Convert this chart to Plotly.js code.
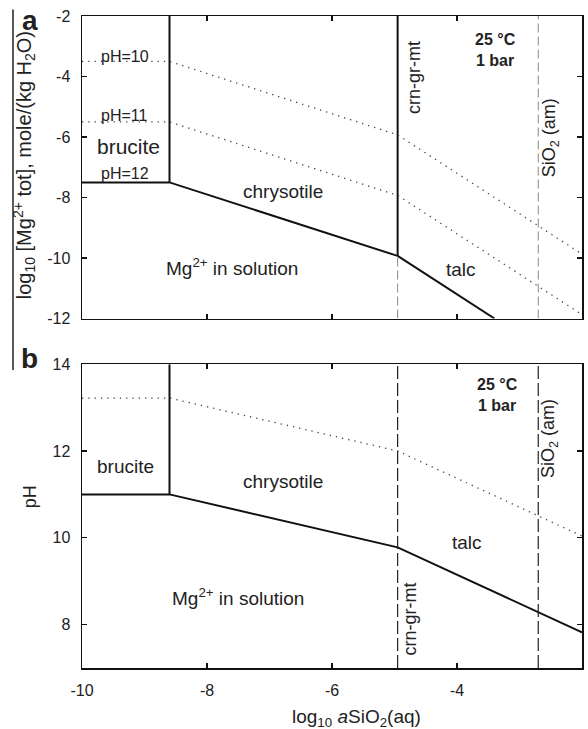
<!DOCTYPE html>
<html>
<head>
<meta charset="utf-8">
<script src="https://cdn.plot.ly/plotly-3.0.1.min.js"></script>
<style>html,body{margin:0;padding:0;background:#fff;}#chart{width:588px;height:729px;}</style>
</head>
<body>
<div id="chart"></div>
<script>
// ---- data (log10 aSiO2(aq) positions and values) ----
const xPhase = [-10, -8.6, -4.95, -2];          // break points: brucite/chrysotile, chrysotile/talc
const xBrucChrys = -8.6;
const xCrnGrMt = -4.95;
const xSiO2am = -2.7;

// panel a: log10 [Mg2+ tot]
const mgBoundary = [-7.5, -7.5, -9.93];          // brucite / chrysotile vs Mg2+ in solution
const mgTalcX = [-4.95, -3.4];
const mgTalcY = [-9.93, -12];
const mgPH10 = [-3.5, -3.5, -5.93, -9.87];
const mgPH11 = [-5.5, -5.5, -7.93, -11.87];
const mgRange = [-12, -2];

// panel b: pH
const phBoundary = [11, 11, 9.78, 7.82];
const phDotted = [13.22, 13.22, 12.0, 10.04];
const phRange = [7, 14];

const xTicks = [-10, -8, -6, -4, -2];
const yTicksA = [-12, -10, -8, -6, -4, -2];
const yTicksB = [8, 10, 12, 14];

const solid = {color: '#111', width: 2};
const dotted = {color: '#444', width: 1.3, dash: '1.3px,5px'};

const traces = [
  // ---- panel a ----
  {x: xPhase.slice(0, 3), y: mgBoundary, xaxis: 'x2', yaxis: 'y2', mode: 'lines', line: solid},
  {x: [xBrucChrys, xBrucChrys], y: [mgBoundary[1], mgRange[1]], xaxis: 'x2', yaxis: 'y2', mode: 'lines', line: solid},
  {x: mgTalcX, y: mgTalcY, xaxis: 'x2', yaxis: 'y2', mode: 'lines', line: solid},
  {x: [xCrnGrMt, xCrnGrMt], y: [mgBoundary[2], mgRange[1]], xaxis: 'x2', yaxis: 'y2', mode: 'lines', line: solid},
  {x: [xCrnGrMt, xCrnGrMt], y: [mgRange[0], mgBoundary[2]], xaxis: 'x2', yaxis: 'y2', mode: 'lines', line: {color: '#888', width: 1, dash: '9px,4px'}},
  {x: [xSiO2am, xSiO2am], y: mgRange, xaxis: 'x2', yaxis: 'y2', mode: 'lines', line: {color: '#888', width: 1, dash: '9px,4px'}},
  {x: xPhase, y: mgPH10, xaxis: 'x2', yaxis: 'y2', mode: 'lines', line: dotted},
  {x: xPhase, y: mgPH11, xaxis: 'x2', yaxis: 'y2', mode: 'lines', line: dotted},
  // ---- panel b ----
  {x: xPhase, y: phBoundary, xaxis: 'x', yaxis: 'y', mode: 'lines', line: solid},
  {x: [xBrucChrys, xBrucChrys], y: [phBoundary[1], phRange[1]], xaxis: 'x', yaxis: 'y', mode: 'lines', line: solid},
  {x: xPhase, y: phDotted, xaxis: 'x', yaxis: 'y', mode: 'lines', line: dotted},
  {x: [xCrnGrMt, xCrnGrMt], y: phRange, xaxis: 'x', yaxis: 'y', mode: 'lines', line: {color: '#222', width: 1.2, dash: '13px,4px'}},
  {x: [xSiO2am, xSiO2am], y: phRange, xaxis: 'x', yaxis: 'y', mode: 'lines', line: {color: '#222', width: 1.2, dash: '13px,4px'}}
];

const F = 'Liberation Sans, Arial, sans-serif';
const axBase = {
  showgrid: false, zeroline: false, showline: true, linecolor: '#111', linewidth: 1.5,
  mirror: 'ticks', ticks: 'inside', ticklen: 5, tickwidth: 1.2, tickcolor: '#111',
  ticklabelstandoff: 7,
  tickfont: {family: F, size: 16, color: '#222'}
};

function ann(text, x, y, xref, yref, size, extra) {
  return Object.assign({text: text, x: x, y: y, xref: xref, yref: yref, showarrow: false,
    font: {family: F, size: size, color: '#222'}}, extra || {});
}

const annotations = [
  // panel a
  ann('pH=10', -9.32, -3.33, 'x2', 'y2', 16),
  ann('pH=11', -9.32, -5.28, 'x2', 'y2', 16),
  ann('brucite', -9.26, -6.33, 'x2', 'y2', 21),
  ann('pH=12', -9.32, -7.2, 'x2', 'y2', 16),
  ann('chrysotile', -6.79, -7.8, 'x2', 'y2', 19),
  ann('Mg<sup>2+</sup> in solution', -7.6, -10.3, 'x2', 'y2', 19),
  ann('talc', -3.93, -10.38, 'x2', 'y2', 19),
  ann('crn-gr-mt', -4.69, -4.02, 'x2', 'y2', 18, {textangle: -90}),
  ann('SiO<sub>2</sub> (am)', -2.49, -6.03, 'x2', 'y2', 18, {textangle: -90}),
  ann('<b>25 °C<br>1 bar</b>', -3.38, -3.14, 'x2', 'y2', 16),
  ann('<b>a</b>', -0.105, 0.993, 'paper', 'paper', 28, {xanchor: 'center', yanchor: 'middle'}),
  ann('log<sub>10</sub> [Mg<sup>2+</sup> tot], mole/(kg H<sub>2</sub>O)', -0.116, 0.771, 'paper', 'paper', 20, {textangle: -90, xanchor: 'center', yanchor: 'middle'}),
  // panel b
  ann('brucite', -9.31, 11.64, 'x', 'y', 19),
  ann('chrysotile', -6.79, 11.3, 'x', 'y', 19),
  ann('Mg<sup>2+</sup> in solution', -7.5, 8.64, 'x', 'y', 19),
  ann('talc', -3.84, 9.89, 'x', 'y', 19),
  ann('crn-gr-mt', -4.75, 8.12, 'x', 'y', 18, {textangle: -90}),
  ann('SiO<sub>2</sub> (am)', -2.51, 12.28, 'x', 'y', 18, {textangle: -90}),
  ann('<b>25 °C<br>1 bar</b>', -3.35, 13.28, 'x', 'y', 16),
  ann('<b>b</b>', -0.105, 0.474, 'paper', 'paper', 28, {xanchor: 'center', yanchor: 'middle'}),
  ann('pH', -0.104, 0.262, 'paper', 'paper', 18, {textangle: -90, xanchor: 'center', yanchor: 'middle'}),
  ann('log<sub>10</sub> <i>a</i>SiO<sub>2</sub>(aq)', 0.548, -0.076, 'paper', 'paper', 19, {xanchor: 'center', yanchor: 'middle'})
];

const layout = {
  width: 588, height: 729,
  margin: {l: 82, r: 6, t: 16, b: 61},
  paper_bgcolor: '#fff', plot_bgcolor: '#fff',
  showlegend: false,
  xaxis: Object.assign({}, axBase, {range: [-10, -2], tickvals: xTicks, ticktext: xTicks.map(String), anchor: 'y'}),
  yaxis: Object.assign({}, axBase, {range: phRange, tickvals: yTicksB, ticktext: yTicksB.map(String), domain: [0, 0.466], anchor: 'x'}),
  xaxis2: Object.assign({}, axBase, {range: [-10, -2], tickvals: xTicks, showticklabels: false, anchor: 'y2'}),
  yaxis2: Object.assign({}, axBase, {range: mgRange, tickvals: yTicksA, ticktext: yTicksA.map(String), domain: [0.536, 1], anchor: 'x2'}),
  annotations: annotations,
  shapes: [
    {type: 'line', xref: 'paper', yref: 'paper', x0: -0.138, x1: -0.138, y0: 0.457, y1: 1.01,
     line: {color: '#222', width: 1.5}}
  ]
};

Plotly.newPlot('chart', traces, layout, {displayModeBar: false, staticPlot: true});
</script>
</body>
</html>
